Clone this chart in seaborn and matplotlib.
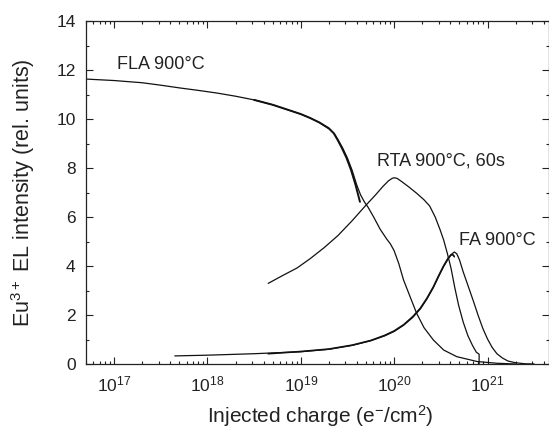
import numpy as np
import pandas as pd
import matplotlib
matplotlib.use("Agg")
import matplotlib.pyplot as plt
from matplotlib.ticker import AutoMinorLocator, LogLocator, NullFormatter, MultipleLocator
import seaborn as sns

# ---------------- data ----------------
fla_x = [5.0e16, 1.0e17, 2.0e17, 3.16e17, 5.0e17, 7.9e17, 1.26e18, 2.0e18, 3.16e18,
         5.0e18, 7.9e18, 1.0e19, 1.26e19, 1.58e19, 2.0e19, 2.29e19, 2.51e19, 2.82e19,
         3.16e19, 3.55e19, 3.98e19, 4.37e19, 4.79e19, 5.25e19, 6.03e19, 7.08e19,
         8.32e19, 9.12e19, 1.0e20, 1.12e20, 1.26e20, 1.48e20, 1.74e20, 2.09e20,
         2.63e20, 3.39e20, 4.68e20, 7.76e20, 1.26e21, 2.0e21]
fla_y = [11.63, 11.57, 11.48, 11.38, 11.27, 11.17, 11.06, 10.93, 10.78,
         10.58, 10.33, 10.20, 10.04, 9.85, 9.60, 9.40, 9.15, 8.80,
         8.40, 7.90, 7.30, 6.90, 6.62, 6.40, 6.00, 5.50,
         5.10, 4.90, 4.62, 4.10, 3.43, 2.75, 2.07, 1.48,
         0.98, 0.57, 0.30, 0.10, 0.03, 0.0]

fla2_x = [3.16e18, 5.0e18, 7.9e18, 1.0e19, 1.26e19, 1.58e19, 2.0e19, 2.25e19, 2.45e19,
          2.75e19, 3.08e19, 3.45e19, 3.85e19, 4.3e19]
fla2_y = [10.78, 10.58, 10.33, 10.20, 10.04, 9.86, 9.62, 9.42, 9.18,
          8.82, 8.42, 7.92, 7.32, 6.62]

rta_x = [4.47e18, 6.31e18, 9.12e18, 1.26e19, 1.78e19, 2.51e19, 3.55e19, 4.9e19, 6.31e19,
         7.59e19, 8.71e19, 9.55e19, 1.0e20, 1.07e20, 1.2e20, 1.41e20, 1.74e20, 2.09e20,
         2.4e20, 2.75e20, 3.09e20, 3.39e20, 3.72e20, 4.07e20, 4.47e20, 4.9e20, 5.5e20,
         6.17e20, 6.92e20, 7.59e20, 8.13e20, 8.13e20]
rta_y = [3.29, 3.60, 3.92, 4.30, 4.75, 5.25, 5.85, 6.45, 6.90,
         7.25, 7.48, 7.58, 7.60, 7.58, 7.45, 7.25, 6.97, 6.70,
         6.45, 6.00, 5.50, 5.06, 4.50, 3.90, 3.10, 2.40, 1.70,
         1.15, 0.75, 0.48, 0.40, 0.0]

fa_x = [4.47e17, 1.0e18, 3.16e18, 1.0e19, 2.0e19, 3.55e19, 5.62e19, 7.94e19, 1.0e20,
        1.26e20, 1.58e20, 1.91e20, 2.24e20, 2.63e20, 3.02e20, 3.39e20, 3.8e20, 4.17e20,
        4.42e20, 4.68e20, 5.01e20, 5.5e20, 6.31e20, 7.08e20, 7.94e20, 8.91e20, 1.0e21,
        1.12e21, 1.26e21, 1.45e21, 1.66e21, 2.0e21, 2.51e21, 3.16e21]
fa_y = [0.33, 0.36, 0.42, 0.50, 0.60, 0.76, 0.95, 1.15, 1.33,
        1.58, 1.90, 2.25, 2.65, 3.12, 3.60, 3.98, 4.30, 4.50,
        4.57, 4.50, 4.25, 3.75, 3.10, 2.55, 1.98, 1.45, 1.02,
        0.68, 0.42, 0.24, 0.12, 0.05, 0.01, 0.0]

fa2_x = [4.47e18, 1.0e19, 2.0e19, 3.55e19, 5.62e19, 7.94e19, 1.0e20, 1.26e20, 1.58e20,
         1.91e20, 2.24e20, 2.63e20, 3.02e20, 3.39e20, 3.8e20, 4.07e20, 4.3e20, 4.4e20]
fa2_y = [0.42, 0.51, 0.61, 0.77, 0.96, 1.17, 1.35, 1.60, 1.93,
         2.28, 2.68, 3.15, 3.63, 4.01, 4.33, 4.46, 4.45, 4.38]

labels = ["FLA 900°C", "RTA 900°C, 60s", "FA 900°C"]
label_x = [1.07e17, 6.5e19, 4.9e20]
label_y = [12.22, 8.29, 5.06]

x_limits = (5.0e16, 4.5e21)
y_limits = (0, 14)

# ---------------- styling ----------------
sns.set_theme(style="ticks")
plt.rcParams["font.family"] = ["Liberation Sans", "DejaVu Sans"]
plt.rcParams["mathtext.fontset"] = "custom"
plt.rcParams["mathtext.rm"] = "Liberation Sans"
plt.rcParams["mathtext.it"] = "Liberation Sans:italic"
plt.rcParams["mathtext.default"] = "regular"

fig = plt.figure(figsize=(5.49, 4.29), dpi=100)
ax = fig.add_axes([86 / 549, 1 - 364 / 429, 462.5 / 549, 343 / 429])

line_kw = dict(color="#111111", estimator=None, sort=False, legend=False, ax=ax)
sns.lineplot(x=fla_x, y=fla_y, linewidth=0.9, **line_kw)
sns.lineplot(x=fla2_x, y=fla2_y, linewidth=1.4, **line_kw)
sns.lineplot(x=rta_x, y=rta_y, linewidth=0.9, **line_kw)
sns.lineplot(x=fa_x, y=fa_y, linewidth=0.9, **line_kw)
sns.lineplot(x=fa2_x, y=fa2_y, linewidth=1.2, **line_kw)

ax.set_xscale("log")
ax.set_xlim(*x_limits)
ax.set_ylim(*y_limits)
ax.yaxis.set_major_locator(MultipleLocator(2))
ax.yaxis.set_minor_locator(AutoMinorLocator(2))
ax.xaxis.set_major_locator(LogLocator(base=10, numticks=20))
ax.xaxis.set_minor_locator(LogLocator(base=10, subs=np.arange(2, 10), numticks=50))
ax.xaxis.set_minor_formatter(NullFormatter())

for s in ax.spines.values():
    s.set_visible(True)
    s.set_linewidth(0.9)
    s.set_color("#222222")

ax.tick_params(which="both", direction="in", top=True, right=True,
               color="#222222", width=0.8, labelsize=12.5, labelcolor="#222222")
ax.tick_params(which="major", length=4.7)
ax.tick_params(which="minor", length=2.4)
ax.tick_params(axis="y", pad=7.5)
ax.tick_params(axis="x", pad=7.5)

ax.set_xlabel("Injected charge (e$^{-}$/cm$^{2}$)", fontsize=15, color="#222222")
ax.set_ylabel("Eu$^{3+}$ EL intensity (rel. units)", fontsize=15.5, color="#222222")
ax.xaxis.set_label_coords(0.506, -0.113)
ax.yaxis.set_label_coords(-0.107, 0.5)

for t, xx, yy in zip(labels, label_x, label_y):
    ax.text(xx, yy, t, fontsize=13, color="#222222", ha="left", va="center")

fig.savefig("out.png", dpi=100)
